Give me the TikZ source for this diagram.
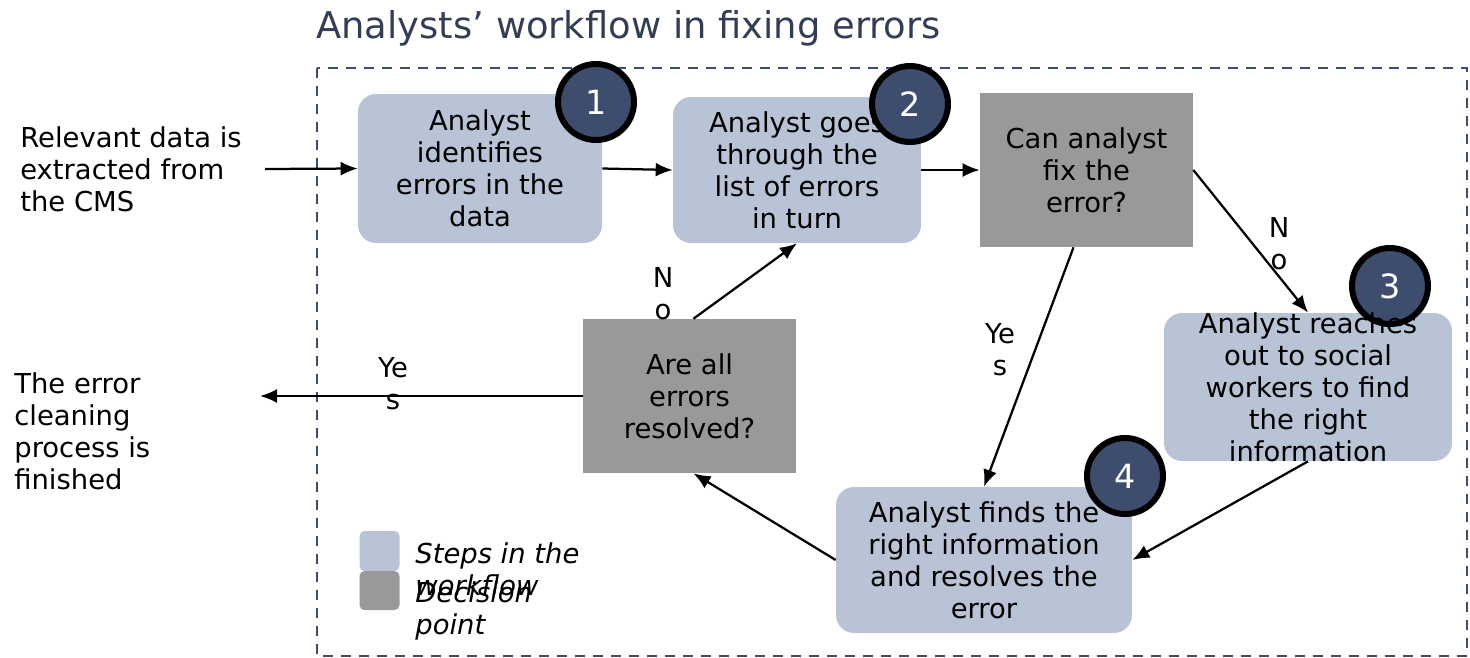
\documentclass[tikz,border=0pt]{standalone}
\usepackage{fontspec}
\setmainfont{DejaVu Sans}
\usetikzlibrary{arrows.meta}
\definecolor{stepc}{HTML}{B8C3D6}
\definecolor{decc}{HTML}{999999}
\definecolor{badgec}{HTML}{3E4D6D}
\definecolor{titlec}{HTML}{333E55}
\tikzset{
  px/.style={x=0.02cm,y=-0.02cm},
  txt/.style={font=\fontsize{15.6}{18.2}\selectfont, align=center, inner sep=0pt},
  stepbox/.style={fill=stepc, rounded corners=0.36cm, inner sep=0pt},
  decbox/.style={fill=decc, inner sep=0pt},
  badge/.style={circle, fill=badgec, draw=black, line width=0.12cm, minimum size=1.52cm, inner sep=0pt, text=white, font=\fontsize{19}{23}\selectfont},
  conn/.style={line width=0.045cm, -{Latex[length=0.34cm,width=0.28cm]}},
  lbl/.style={font=\fontsize{15.6}{18.2}\selectfont, align=center, inner sep=0pt},
}
\begin{document}
\begin{tikzpicture}[px]
\useasboundingbox (0,0) rectangle (1470,657);
% title and frame
\node[anchor=base west, inner sep=0pt, text=titlec, font=\fontsize{21}{25}\selectfont] (title) at (316,38) {Analysts’ workflow in fixing errors};
\draw[badgec, line width=0.04cm, dash pattern=on 0.2cm off 0.16cm] (317,68) rectangle (1467,656);
% boxes
\node[stepbox, minimum width=4.88cm, minimum height=2.98cm] (b1) at (480,168.5) {};
\node[txt] at (b1.center) {Analyst\\identifies\\errors in the\\data};
\node[stepbox, minimum width=4.96cm, minimum height=2.92cm] (b2) at (797,170) {};
\node[txt] at (b2.center) {Analyst goes\\through the\\list of errors\\in turn};
\node[decbox, minimum width=4.26cm, minimum height=3.08cm] (d1) at (1086.5,170) {};
\node[txt] at (d1.center) {Can analyst\\fix the\\error?};
\node[stepbox, minimum width=5.76cm, minimum height=2.96cm] (b3) at (1308,387) {};
\node[badge] (n3) at (1390,286) {3};
\node[txt] at (b3.center) {Analyst reaches\\out to social\\workers to find\\the right\\information};
\node[stepbox, minimum width=5.92cm, minimum height=2.92cm] (b4) at (984,560) {};
\node[txt] at (b4.center) {Analyst finds the\\right information\\and resolves the\\error};
\node[decbox, minimum width=4.26cm, minimum height=3.08cm] (d2) at (689.5,396) {};
\node[txt] at (d2.center) {Are all\\errors\\resolved?};
% badges
\node[badge] (n1) at (596,102) {1};
\node[badge] (n2) at (910,104) {2};
\node[badge] (n4) at (1125,476) {4};
% side texts
\node[txt, align=left, anchor=west] (start) at (20,169) {Relevant data is\\extracted from\\the CMS};
\node[txt, align=left, anchor=west] (finish) at (14,431) {The error\\cleaning\\process is\\finished};
\coordinate (cs) at (265,169);
\coordinate (cf) at (260,396);
% connectors
\draw[conn] (cs) -- (b1.west);
\draw[conn] (b1.east) -- (b2.west);
\draw[conn] (b2.east) -- (d1.west);
\draw[conn] (d1.east) -- (b3.north);
\draw[conn] ([xshift=-0.26cm]d1.south) -- (b4.north);
\draw[conn] (b3.south) -- (b4.east);
\draw[conn] (b4.west) -- ([xshift=0.08cm]d2.south);
\draw[conn] (d2.west) -- (cf);
\draw[conn] ([xshift=0.08cm]d2.north) -- (b2.south);
% labels
\node[lbl] (l1) at (1279,244) {N\\o};
\node[lbl] (l2) at (1000,350) {Ye\\s};
\node[lbl] (l3) at (393,384) {Ye\\s};
\node[lbl] (l4) at (663,294) {N\\o};
% legend
\node[stepbox, rounded corners=0.1cm, minimum width=0.8cm, minimum height=0.8cm] (k1) at (379.5,551) {};
\node[decbox, rounded corners=0.1cm, minimum width=0.8cm, minimum height=0.78cm] (k2) at (379.5,590.5) {};
\node[txt, align=left, anchor=west, font=\fontsize{15.6}{18.2}\selectfont\itshape] (kt1) at (415,569) {Steps in the\\workflow};
\node[txt, align=left, anchor=west, font=\fontsize{15.6}{18.2}\selectfont\itshape] (kt2) at (415,611) {Decision\\point};
\end{tikzpicture}
\end{document}
